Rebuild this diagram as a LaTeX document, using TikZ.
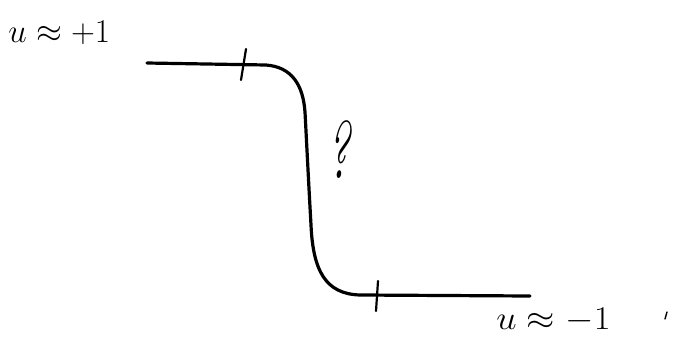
\documentclass[tikz,border=0pt]{standalone}
\begin{document}
\begin{tikzpicture}[x=1pt,y=-1pt,
  curve/.style={line width=3.2pt,line cap=round,line join=round},
  tick/.style={line width=2.2pt,line cap=round},
  lab/.style={inner sep=0pt,anchor=west,font=\huge,scale=1.6}]
\useasboundingbox (0,0) rectangle (675,341);
\coordinate (a) at (147,63);
\coordinate (b) at (266,65);
\coordinate (c) at (305,112);
\coordinate (d) at (311,225);
\coordinate (e) at (360,295);
\coordinate (f) at (530,296);
\draw[curve] (a) -- (b) .. controls (292,67) and (303,85) .. (c)
  .. controls (307,150) and (309,190) .. (d)
  .. controls (313,270) and (325,294) .. (e) -- (f);
\draw[tick] (246,49) -- (241,80);
\draw[tick] (378,281) -- (376,311);
\node[lab] (top) at (8,33) {$u\approx{+}1$};
\node[lab,xscale=1.1] (bot) at (496,320) {$u\approx -1$};
\node[inner sep=0pt,xscale=2.2,yscale=3.9,font=\huge] (q) at (339,150) {\itshape ?};
\draw[line width=1.4pt,line cap=round] (667,312) -- (665,319);
\end{tikzpicture}
\end{document}
